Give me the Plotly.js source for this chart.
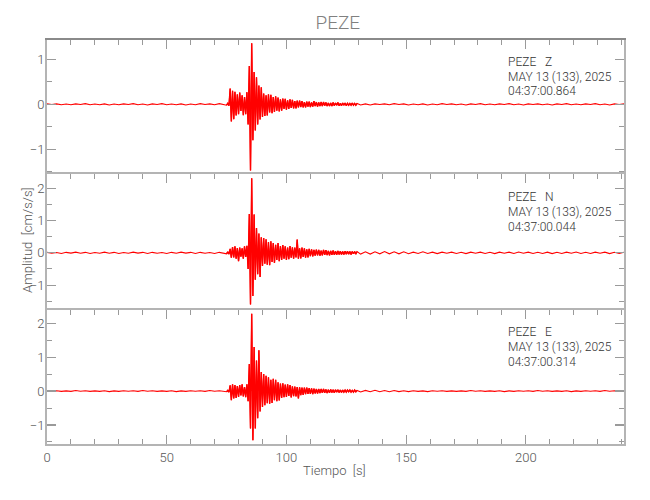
<!DOCTYPE html>
<html><head><meta charset="utf-8">
<script src="https://cdn.plot.ly/plotly-3.0.1.min.js"></script>
<style>html,body{margin:0;padding:0;background:#fff}</style>
</head><body><div id="chart" style="width:650px;height:500px"></div>
<script>
const station = 'PEZE';
const components = ['Z', 'N', 'E'];
const dateLabel = 'MAY 13 (133), 2025';
const startTimes = ['04:37:00.864', '04:37:00.044', '04:37:00.314'];
const xTitle = 'Tiempo  [s]';
const yTitle = 'Amplitud  [cm/s/s]';

// sampling of each segment (begin time, sample interval in s)
const preStart = 0, preStep = 2;
const evStart = 75, evStep = 0.5;
const postStart = 131, postStep = 2;

// ---- Z component (cm/s/s) ----
const zPre = [0.01,-0.005,0.01,-0.01,0.005,-0.01,0.01,-0.005,0.015,-0.01,
  0.005,-0.01,0.01,-0.015,0.005,-0.01,0.01,-0.005,0.015,-0.01,
  0.005,-0.015,0.01,-0.005,0.015,-0.01,0.005,-0.01,0.01,-0.015,
  0.005,-0.01,0.015,-0.005,0.01,-0.01,0.015,-0.015];
const zEvent = [-0.02,0.02,-0.03,0.35,-0.38,0.30,-0.33,0.28,-0.25,0.22,
  -0.22,0.26,-0.15,0.20,-0.24,0.16,-0.22,0.27,-0.45,0.85,
  -1.47,1.36,-0.80,0.72,-0.58,0.60,-0.45,0.42,-0.34,0.38,
  -0.28,0.24,-0.26,0.20,-0.25,0.22,-0.18,0.21,-0.20,0.16,
  -0.17,0.18,-0.14,0.15,-0.16,0.11,-0.14,0.13,-0.10,0.12,
  -0.12,0.09,-0.10,0.11,-0.08,0.10,-0.09,0.07,-0.09,0.08,
  -0.07,0.08,-0.06,0.07,-0.07,0.05,-0.07,0.06,-0.05,0.06,
  -0.06,0.04,-0.05,0.07,-0.04,0.05,-0.05,0.04,-0.04,0.05,
  -0.04,0.05,-0.03,0.04,-0.04,0.03,-0.04,0.03,-0.04,0.04,
  -0.03,0.03,-0.02,0.04,-0.03,0.02,-0.03,0.03,-0.02,0.03,
  -0.03,0.02,-0.02,0.02,-0.02,0.03,-0.02,0.02,-0.02,0.02];
const zPost = [-0.015,0.01,-0.015,0.01,-0.005,0.01,-0.01,0.015,-0.005,0.01,
  -0.015,0.005,-0.01,0.01,-0.015,0.005,-0.01,0.015,-0.005,0.01,
  -0.01,0.005,-0.015,0.01,-0.005,0.015,-0.01,0.005,-0.01,0.01,
  -0.005,0.015,-0.01,0.005,-0.015,0.01,-0.005,0.01,-0.01,0.005,
  -0.015,0.01,-0.005,0.015,-0.01,0.005,-0.01,0.01,-0.005,0.015,
  -0.01,0.005,-0.015,0.01,-0.005,0.01];

// ---- N component ----
const nPre = [0.015,-0.015,0.01,-0.02,0.015,-0.01,0.02,-0.015,0.015,-0.02,
  0.01,-0.015,0.02,-0.015,0.015,-0.02,0.01,-0.015,0.02,-0.01,
  0.015,-0.02,0.015,-0.015,0.01,-0.02,0.015,-0.015,0.02,-0.01,
  0.015,-0.02,0.015,-0.015,0.01,-0.02,0.015,-0.02];
const nEvent = [-0.03,0.03,-0.04,0.12,-0.15,0.18,-0.14,0.20,-0.18,0.15,
  -0.26,0.16,-0.12,0.14,-0.18,0.20,-0.13,0.22,-0.50,1.20,
  -1.60,2.31,-1.34,1.19,-0.83,0.77,-0.66,0.60,-0.75,0.48,
  -0.41,0.46,-0.34,0.42,-0.37,0.33,-0.38,0.36,-0.28,0.30,
  -0.31,0.25,-0.22,0.30,-0.26,0.21,-0.22,0.24,-0.18,0.20,
  -0.22,0.16,-0.20,0.21,-0.15,0.17,-0.18,0.16,-0.14,0.41,
  -0.18,0.14,-0.17,0.16,-0.13,0.14,-0.15,0.11,-0.14,0.12,
  -0.10,0.11,-0.11,0.09,-0.09,0.10,-0.08,0.09,-0.09,0.07,
  -0.08,0.09,-0.06,0.08,-0.07,0.06,-0.08,0.06,-0.06,0.07,
  -0.06,0.05,-0.06,0.06,-0.05,0.05,-0.05,0.04,-0.05,0.05,
  -0.04,0.05,-0.04,0.04,-0.05,0.04,-0.03,0.04,-0.04,0.04];
const nPost = [-0.04,0.03,-0.04,0.03,-0.03,0.04,-0.03,0.03,-0.03,0.03,
  -0.03,0.02,-0.02,0.03,-0.02,0.02,-0.025,0.02,-0.015,0.02,
  -0.02,0.015,-0.025,0.02,-0.015,0.02,-0.02,0.015,-0.025,0.02,
  -0.015,0.02,-0.02,0.025,-0.015,0.02,-0.02,0.015,-0.02,0.02,
  -0.025,0.015,-0.02,0.02,-0.015,0.025,-0.02,0.015,-0.02,0.02,
  -0.015,0.02,-0.025,0.015,-0.02,0.02];

// ---- E component ----
const ePre = [0.01,-0.005,0.01,-0.01,0.005,-0.01,0.015,-0.005,0.01,-0.01,
  0.005,-0.01,0.01,-0.015,0.005,-0.01,0.01,-0.005,0.01,-0.01,
  0.015,-0.005,0.01,-0.01,0.005,-0.01,0.01,-0.015,0.005,-0.01,
  0.01,-0.005,0.01,-0.01,0.015,-0.005,0.01,-0.015];
const eEvent = [-0.02,0.02,-0.03,0.17,-0.27,0.20,-0.22,0.18,-0.20,0.15,
  -0.17,0.18,-0.13,0.20,-0.16,0.12,-0.18,0.20,-0.30,0.80,
  -1.10,2.28,-1.45,1.30,-1.10,0.90,-0.80,1.20,-0.60,0.56,
  -0.47,0.50,-0.42,0.45,-0.36,0.41,-0.37,0.33,-0.35,0.36,
  -0.27,0.33,-0.30,0.26,-0.28,0.22,-0.20,0.23,-0.18,0.19,
  -0.17,0.20,-0.14,0.18,-0.19,0.14,-0.15,0.13,-0.16,0.12,
  -0.22,0.11,-0.12,0.10,-0.11,0.10,-0.09,0.10,-0.08,0.09,
  -0.08,0.08,-0.09,0.07,-0.07,0.06,-0.07,0.06,-0.06,0.06,
  -0.05,0.06,-0.05,0.05,-0.06,0.04,-0.05,0.05,-0.04,0.04,
  -0.05,0.04,-0.03,0.04,-0.04,0.03,-0.04,0.03,-0.03,0.03,
  -0.03,0.03,-0.02,0.03,-0.03,0.02,-0.03,0.03,-0.02,0.02];
const ePost = [-0.025,0.02,-0.02,0.025,-0.02,0.015,-0.02,0.015,-0.015,0.01,
  -0.015,0.01,-0.01,0.005,-0.015,0.01,-0.005,0.01,-0.01,0.005,
  -0.01,0.005,-0.01,0.015,-0.005,0.01,-0.01,0.005,-0.01,0.01,
  -0.015,0.005,-0.01,0.01,-0.005,0.01,-0.01,0.015,-0.005,0.01,
  -0.01,0.005,-0.01,0.01,-0.015,0.005,-0.01,0.01,-0.005,0.01,
  -0.01,0.015,-0.005,0.01,-0.01,0.005];

const yRanges = [[-1.55, 1.43], [-1.77, 2.44], [-1.56, 2.39]];
const xRange = [0, 241];

function times(start, step, n) { const t = []; for (let i = 0; i < n; i++) t.push(start + i * step); return t; }
function build(pre, ev, post) {
  return {
    x: times(preStart, preStep, pre.length).concat(times(evStart, evStep, ev.length), times(postStart, postStep, post.length)),
    y: pre.concat(ev, post),
    ex: times(evStart, evStep, ev.length), ey: ev
  };
}
const series = [build(zPre, zEvent, zPost), build(nPre, nEvent, nPost), build(ePre, eEvent, ePost)];

const FONT = 'Roboto, "DejaVu Sans Condensed", sans-serif';
const axisGray = '#b4b4b4';
const tickGray = '#9a9a9a';
const labelGray = '#555';

const traces = [];
series.forEach((s, i) => {
  const xa = i === 0 ? 'x' : 'x' + (i + 1), ya = i === 0 ? 'y' : 'y' + (i + 1);
  traces.push({type: 'scatter', mode: 'lines', x: s.ex, y: s.ey, xaxis: xa, yaxis: ya,
    fill: 'tozeroy', fillcolor: 'rgba(255,0,0,0.8)',
    line: {color: '#ff0000', width: 1.4}, hoverinfo: 'skip', showlegend: false});
  traces.push({type: 'scatter', mode: 'lines', x: s.x, y: s.y, xaxis: xa, yaxis: ya,
    line: {color: '#ff0000', width: 1.1}, hoverinfo: 'skip', showlegend: false});
});

const domains = [[0.6683, 1], [0.3317, 0.6683], [0, 0.3317]];
function yAx(i) {
  return {
    domain: domains[i], range: yRanges[i], anchor: i === 0 ? 'x' : 'x' + (i + 1),
    tick0: 0, dtick: 1, ticks: 'inside', ticklen: 9, tickwidth: 1.2, tickcolor: tickGray,
    minor: {tick0: 0, dtick: 0.5, ticks: 'inside', ticklen: 5, tickwidth: 1, tickcolor: tickGray},
    showline: true, linecolor: axisGray, linewidth: 2, mirror: 'ticks',
    showgrid: false, zeroline: false, ticklabelstandoff: -2,
    tickfont: {family: FONT, size: 13, color: labelGray, weight: 300}
  };
}
function xAx(i) {
  const last = i === 2;
  return {
    range: xRange, anchor: i === 0 ? 'y' : 'y' + (i + 1), matches: i === 0 ? undefined : 'x',
    side: last ? 'bottom' : 'top',
    tick0: 0, dtick: 50, ticks: 'inside', ticklen: 9, tickwidth: 1.2, tickcolor: tickGray,
    minor: {tick0: 0, dtick: 10, ticks: 'inside', ticklen: 5, tickwidth: 1, tickcolor: tickGray},
    showline: true,
    linecolor: i === 0 ? '#8a8a8a' : axisGray, linewidth: i === 0 ? 2.5 : 2,
    mirror: last ? 'ticks' : false,
    showticklabels: last, showgrid: false, zeroline: false,
    tickfont: {family: FONT, size: 13, color: labelGray, weight: 300}
  };
}

const textY = [[0.9455, 0.9084, 0.8737], [0.6114, 0.5742, 0.5371], [0.2772, 0.2401, 0.2029]];
const annotations = [];
components.forEach((c, i) => {
  const lines = [station + '\u00a0\u00a0\u00a0' + c, dateLabel, startTimes[i]];
  lines.forEach((txt, j) => annotations.push({
    xref: 'paper', yref: 'paper', x: 0.7955, y: textY[i][j], xanchor: 'left', yanchor: 'middle',
    text: txt, showarrow: false, font: {family: FONT, size: 12, color: '#333', weight: 300}
  }));
});
annotations.push({xref: 'paper', yref: 'paper', x: -0.033, y: 0.505, textangle: -90,
  xanchor: 'center', yanchor: 'middle', text: yTitle.replace(/ /g, '\u00a0'), showarrow: false,
  font: {family: FONT, size: 13, color: labelGray, weight: 300}});
annotations.push({xref: 'paper', yref: 'paper', x: 0.499, y: -0.0644,
  xanchor: 'center', yanchor: 'middle', text: xTitle.replace(/ /g, '\u00a0'), showarrow: false,
  font: {family: FONT, size: 13, color: labelGray, weight: 300}});

const layout = {
  width: 650, height: 500,
  margin: {l: 47, r: 26, t: 40, b: 56},
  paper_bgcolor: '#fff', plot_bgcolor: '#fff',
  title: {text: station, x: 0.504, xref: 'paper', xanchor: 'center', y: 0.956, yref: 'container', yanchor: 'middle',
    font: {family: FONT, size: 19, color: '#808080', weight: 300}},
  xaxis: xAx(0), xaxis2: xAx(1), xaxis3: xAx(2),
  yaxis: yAx(0), yaxis2: yAx(1), yaxis3: yAx(2),
  annotations: annotations,
  showlegend: false
};

Plotly.newPlot('chart', traces, layout, {staticPlot: true, displayModeBar: false});
</script>
</body></html>
